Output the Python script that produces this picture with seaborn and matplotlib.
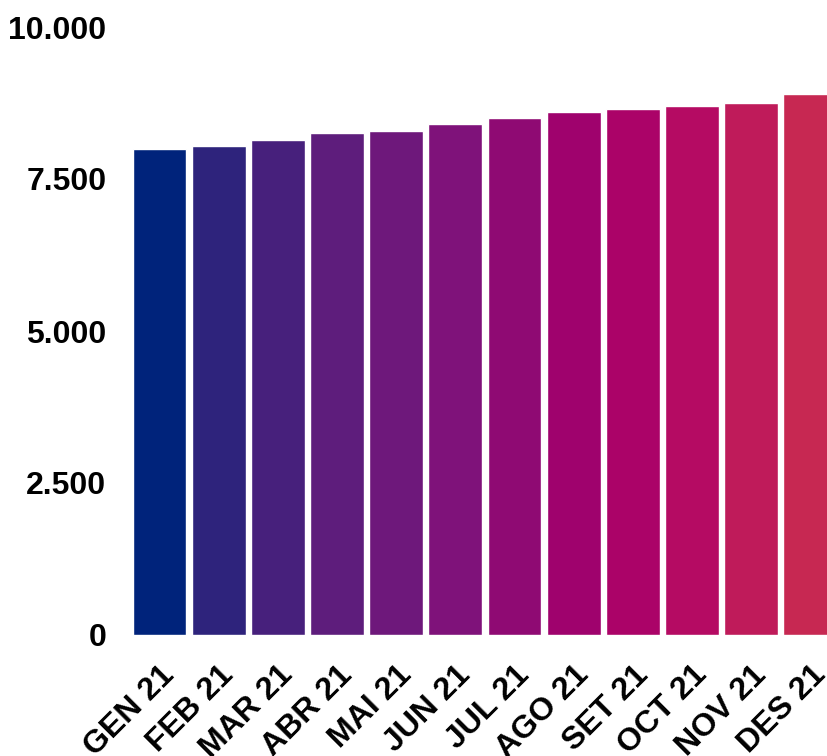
import matplotlib
matplotlib.use('Agg')
import matplotlib.pyplot as plt
import seaborn as sns
import pandas as pd

# Data
months = ['GEN 21', 'FEB 21', 'MAR 21', 'ABR 21', 'MAI 21', 'JUN 21',
          'JUL 21', 'AGO 21', 'SET 21', 'OCT 21', 'NOV 21', 'DES 21']
values = [7995, 8045, 8140, 8250, 8295, 8400, 8500, 8600, 8645, 8700, 8745, 8895]
colors = ['#00237b', '#2e237c', '#47207c', '#5e1d7c', '#6e187b', '#7f127a',
          '#8f0a73', '#9f026d', '#ab0368', '#b50b63', '#bf1b5a', '#c72852']

yticks = [0, 2500, 5000, 7500, 10000]
ytick_labels = ['0', '2.500', '5.000', '7.500', '10.000']

df = pd.DataFrame({'month': months, 'value': values})

sns.set_style('white')
plt.rcParams['font.family'] = ['Liberation Sans', 'DejaVu Sans']
plt.rcParams['text.color'] = 'black'
plt.rcParams['xtick.color'] = 'black'
plt.rcParams['ytick.color'] = 'black'

fig = plt.figure(figsize=(8.28, 7.56), dpi=100)
ax = fig.add_axes([130 / 828, 121 / 756, 698 / 828, 608 / 756])

sns.barplot(data=df, x='month', y='value', hue='month', palette=colors,
            legend=False, width=0.91, saturation=1, ax=ax)

ax.set_xlim(-0.5, 11.3)
ax.set_ylim(0, 10000)
ax.set_yticks(yticks)
ax.set_yticklabels(ytick_labels, fontsize=23, fontweight='bold')
ax.set_xticks(range(len(months)))
ax.set_xticklabels(months, fontsize=23, fontweight='bold', rotation=45,
                   ha='right', rotation_mode='anchor')
ax.tick_params(axis='y', length=0, pad=17)
ax.tick_params(axis='x', length=0, pad=18)
ax.set_xlabel('')
ax.set_ylabel('')
sns.despine(ax=ax, left=True, bottom=True)

fig.savefig('out.png', dpi=100)
